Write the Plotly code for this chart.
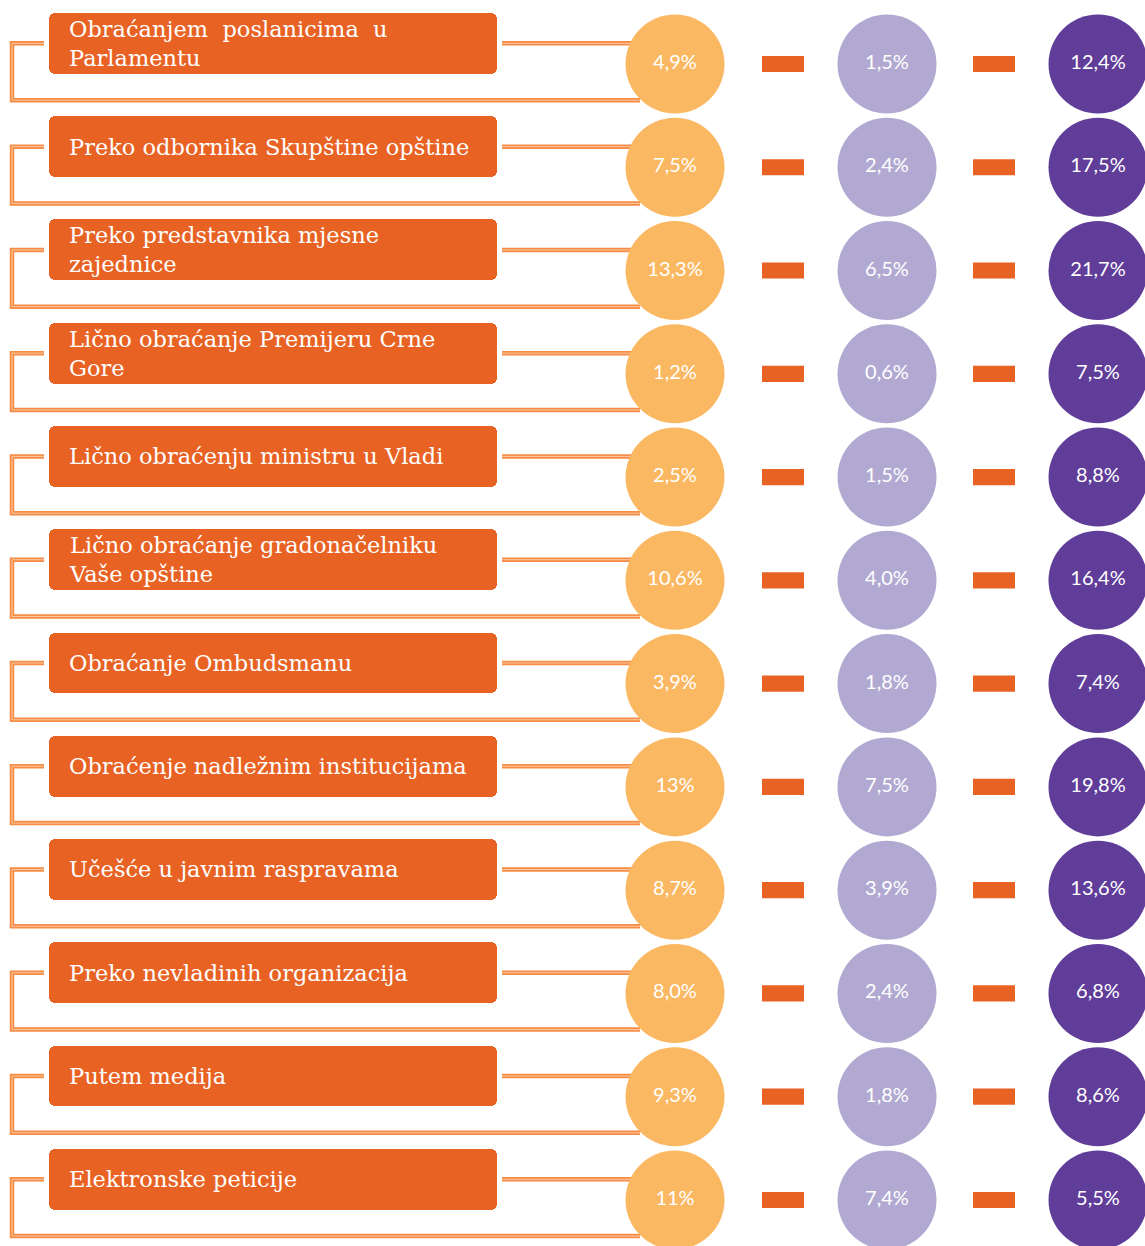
import plotly.graph_objects as go

# categories (top to bottom)
labels = [
    "Obraćanjem\u00a0 poslanicima\u00a0 u<br>Parlamentu",
    "Preko odbornika Skupštine opštine",
    "Preko predstavnika mjesne<br>zajednice",
    "Lično obraćanje Premijeru Crne<br>Gore",
    "Lično obraćenju ministru u Vladi",
    "Lično obraćanje gradonačelniku<br>Vaše opštine",
    "Obraćanje Ombudsmanu",
    "Obraćenje nadležnim institucijama",
    "Učešće u javnim raspravama",
    "Preko nevladinih organizacija",
    "Putem medija",
    "Elektronske peticije",
]

# three series, as printed in the circles
col1 = ["4,9%", "7,5%", "13,3%", "1,2%", "2,5%", "10,6%", "3,9%", "13%", "8,7%", "8,0%", "9,3%", "11%"]
col2 = ["1,5%", "2,4%", "6,5%", "0,6%", "1,5%", "4,0%", "1,8%", "7,5%", "3,9%", "2,4%", "1,8%", "7,4%"]
col3 = ["12,4%", "17,5%", "21,7%", "7,5%", "8,8%", "16,4%", "7,4%", "19,8%", "13,6%", "6,8%", "8,6%", "5,5%"]

ORANGE = "#E86224"
LINE = "#F68C45"
LINE_HI = "#FCC9A0"
circle_cols = [(675, "#FBB862", col1), (887, "#B1A9D1", col2), (1098, "#5F3D99", col3)]
dash_cols = [(762, 804), (973, 1015)]

rows = list(range(len(labels)))
box_y = [r - 0.2 for r in rows]

fig = go.Figure()

# label boxes
fig.add_trace(go.Bar(
    orientation="h", y=box_y, x=[448] * len(rows), base=49, width=0.59,
    marker=dict(color=ORANGE, line=dict(width=0), cornerradius=6),
    hoverinfo="skip", showlegend=False,
))

shapes = []
for r in rows:
    top = r - 0.2
    bot = r + 0.35
    path = f"M 44 {top} L 12 {top} L 12 {bot} L 640 {bot}"
    for col, w in ((LINE, 4.5), (LINE_HI, 1)):
        shapes.append(dict(type="path", path=path, line=dict(color=col, width=w), layer="below"))
        shapes.append(dict(type="line", x0=502, x1=632, y0=top, y1=top,
                           line=dict(color=col, width=w), layer="below"))
    for x0, x1 in dash_cols:
        shapes.append(dict(type="rect", x0=x0, x1=x1, y0=r - 0.078, y1=r + 0.078,
                           fillcolor=ORANGE, line=dict(width=0), layer="below"))

for xc, color, vals in circle_cols:
    fig.add_trace(go.Scatter(
        x=[xc] * len(rows), y=rows, mode="markers+text", text=vals,
        textposition="middle center",
        textfont=dict(family="Lato", size=20, color="white"),
        marker=dict(size=99, color=color, line=dict(width=0)),
        hoverinfo="skip", showlegend=False, cliponaxis=False,
    ))

annotations = [
    dict(x=67, y=y, text=t, xanchor="left", yanchor="middle", align="left",
         showarrow=False, font=dict(family="DejaVu Serif", size=22.5, color="white"))
    for y, t in zip(box_y, labels)
]

fig.update_layout(
    width=1145, height=1246,
    margin=dict(l=0, r=0, t=0, b=0),
    paper_bgcolor="white", plot_bgcolor="white",
    xaxis=dict(range=[0, 1145], visible=False, fixedrange=True),
    yaxis=dict(range=[11.446, -0.62], visible=False, fixedrange=True),
    shapes=shapes, annotations=annotations,
    bargap=0,
)

fig.write_html("out.html", config={"displayModeBar": False},
               post_script="document.body.style.margin='0';document.body.style.overflow='hidden';")
